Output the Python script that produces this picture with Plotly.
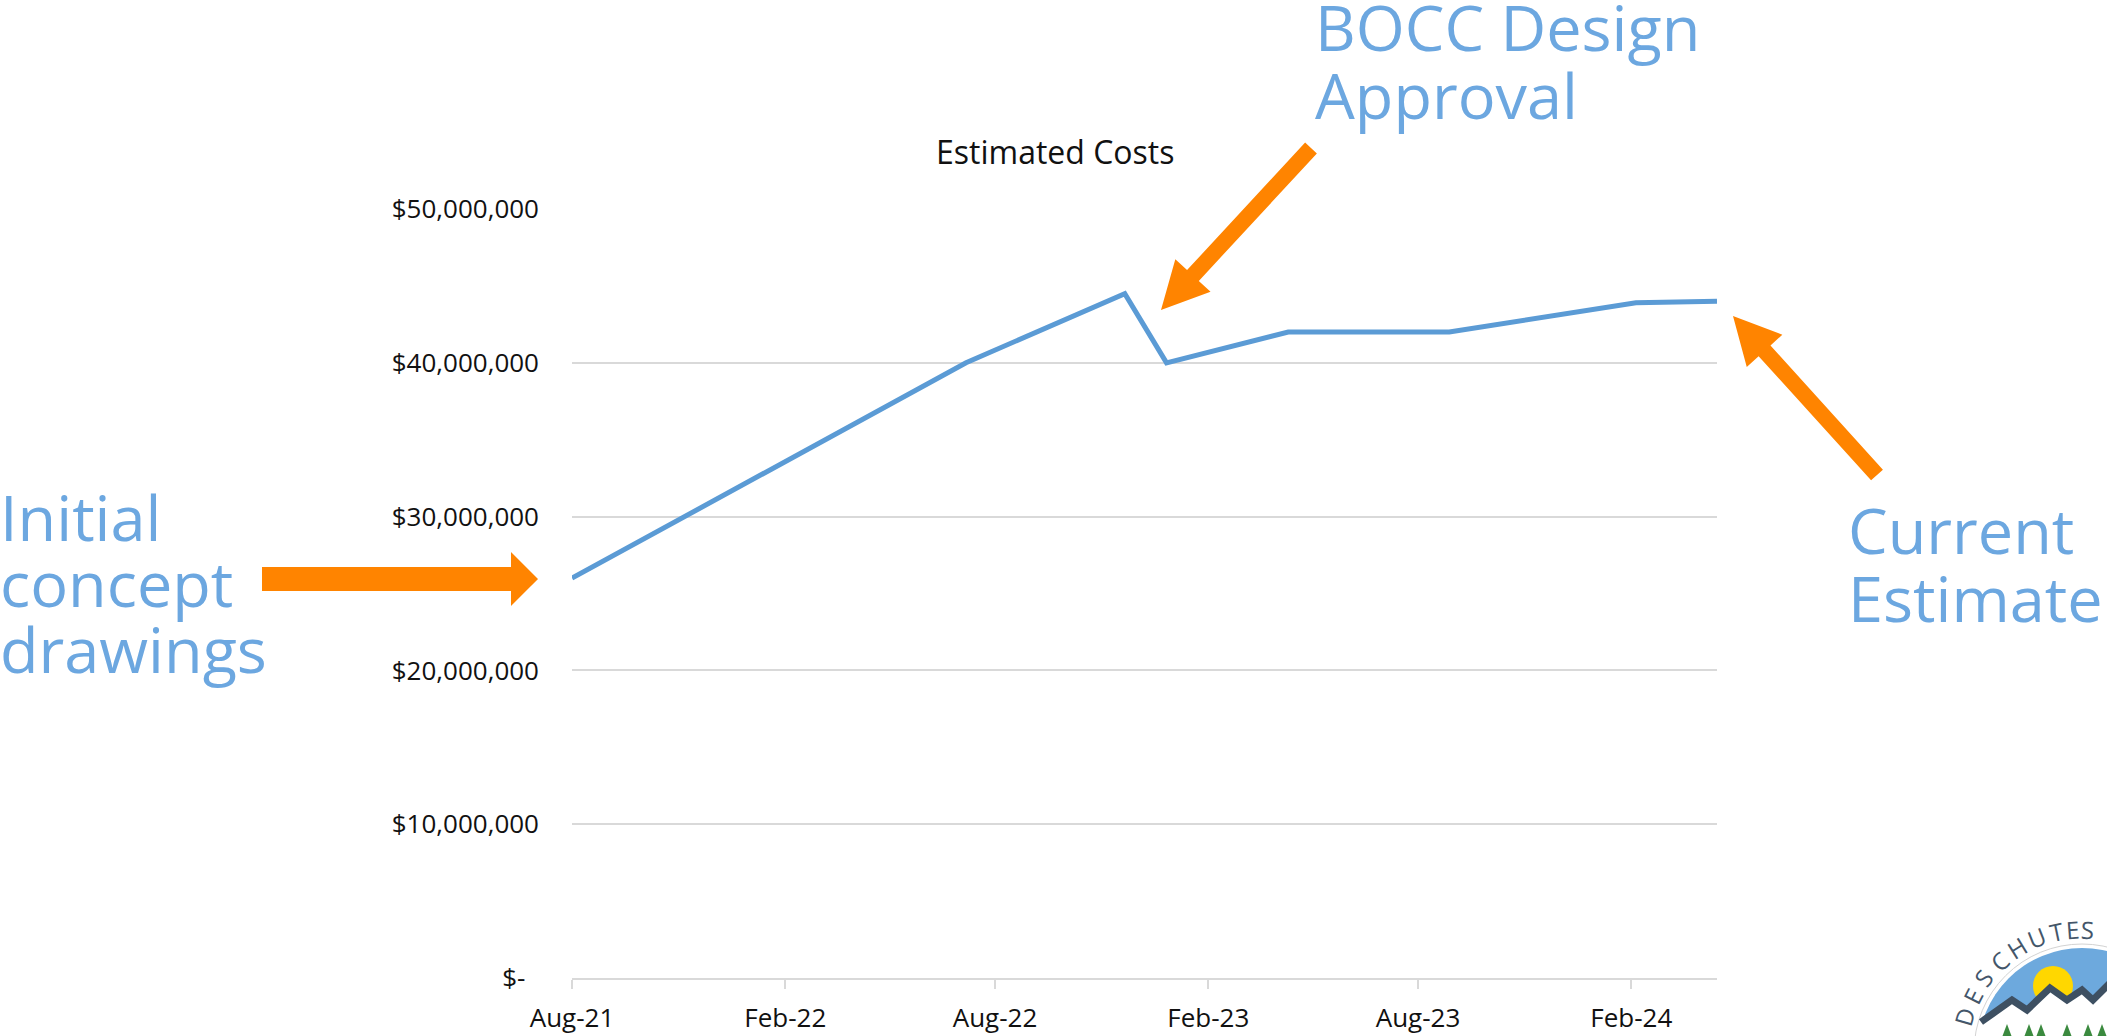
import math
import plotly.graph_objects as go

# ---------------- data ----------------
dates = ["2021-08-01", "2022-07-07", "2022-11-21", "2022-12-27",
         "2023-04-11", "2023-08-28", "2024-02-05", "2024-04-15"]
costs = [26_000_000, 40_000_000, 44_500_000, 40_000_000,
         42_000_000, 42_000_000, 43_900_000, 44_000_000]

x_tick_dates = ["2021-08-01", "2022-02-01", "2022-08-01",
                "2023-02-01", "2023-08-01", "2024-02-01"]
x_tick_labels = ["Aug-21", "Feb-22", "Aug-22", "Feb-23", "Aug-23", "Feb-24"]

y_tick_vals = [0, 10_000_000, 20_000_000, 30_000_000, 40_000_000, 50_000_000]
y_tick_labels = ["$-\u00a0\u00a0", "$10,000,000", "$20,000,000",
                 "$30,000,000", "$40,000,000", "$50,000,000"]

title_text = "Estimated Costs"
callouts = {
    "initial": ["Initial", "concept", "drawings"],
    "bocc": ["BOCC Design", "Approval"],
    "current": ["Current", "Estimate"],
}
logo_letters = list("DESCHUTES")
logo_angles = [163.6, 153.0, 142.9, 132.3, 121.8, 111.5, 101.9, 94.3, 87.6]

# ---------------- layout geometry (window pixels) ----------------
W, H = 2107, 1036
PL, PR, PT, PB = 572, 1717, 209, 978   # plot area
FONT = "Open Sans"
LINE_BLUE = "#5B9BD5"
TEXT_BLUE = "#6CA7E0"
ORANGE = "#FF8400"
GRID = "#D9D9D9"


def pp(x, y):
    return ((x - PL) / (PR - PL), (PB - y) / (PB - PT))


def path(points, close=True):
    s = ""
    for i, (x, y) in enumerate(points):
        a, b = pp(x, y)
        s += ("M" if i == 0 else "L") + f"{a:.5f},{b:.5f} "
    return s + ("Z" if close else "")


def block_arrow(tail, tip, sw, hw, hl):
    dx, dy = tip[0] - tail[0], tip[1] - tail[1]
    L = math.hypot(dx, dy)
    ux, uy = dx / L, dy / L
    nx, ny = -uy, ux
    bx, by = tip[0] - ux * hl, tip[1] - uy * hl
    pts = [
        (tail[0] + nx * sw / 2, tail[1] + ny * sw / 2),
        (bx + nx * sw / 2, by + ny * sw / 2),
        (bx + nx * hw / 2, by + ny * hw / 2),
        tip,
        (bx - nx * hw / 2, by - ny * hw / 2),
        (bx - nx * sw / 2, by - ny * sw / 2),
        (tail[0] - nx * sw / 2, tail[1] - ny * sw / 2),
    ]
    return dict(type="path", xref="paper", yref="paper", path=path(pts),
                fillcolor=ORANGE, line=dict(width=0), layer="above")


def circle(cx, cy, r, fill=None, line_color=None, lw=0):
    x0, y0 = pp(cx - r, cy + r)
    x1, y1 = pp(cx + r, cy - r)
    return dict(type="circle", xref="paper", yref="paper",
                x0=x0, y0=y0, x1=x1, y1=y1,
                fillcolor=fill if fill else "rgba(0,0,0,0)",
                line=dict(color=line_color if line_color else "rgba(0,0,0,0)", width=lw),
                layer="above")


def text_ann(text, x, baseline, size, color, xanchor="left", angle=0, center_y=None):
    cy = center_y if center_y is not None else baseline - 0.388 * size
    a, b = pp(x, cy)
    return dict(text=text, x=a, y=b, xref="paper", yref="paper",
                xanchor=xanchor, yanchor="middle", showarrow=False,
                textangle=angle,
                font=dict(family=FONT, size=size, color=color))


fig = go.Figure()
fig.add_trace(go.Scatter(
    x=dates, y=costs, mode="lines",
    line=dict(color=LINE_BLUE, width=5),
    hoverinfo="skip", showlegend=False,
))

shapes = []
# arrows
shapes.append(block_arrow((262, 579), (538, 579), 24, 54, 27))
shapes.append(block_arrow((1311, 148), (1161, 310), 16, 48, 47))
shapes.append(block_arrow((1877, 475), (1733, 316), 16, 48, 47))

# logo (bottom right)
LCX, LCY = 2082, 1052
shapes.append(circle(LCX, LCY, 108, line_color="#D3D3D3", lw=1))
shapes.append(circle(LCX, LCY, 104, fill="#6DA9DD"))
shapes.append(circle(2053, 986, 20, fill="#FFD700"))
mountain = [(1981, 1022), (2012, 1000), (2027, 1010), (2050, 988),
            (2067, 1000), (2082, 990), (2093, 1000), (2112, 981)]
shapes.append(dict(type="path", xref="paper", yref="paper",
                   path=path(mountain + [(2112, 1040), (1975, 1040)]),
                   fillcolor="white", line=dict(width=0), layer="above"))
shapes.append(dict(type="path", xref="paper", yref="paper",
                   path=path(mountain, close=False),
                   line=dict(color="#3E5062", width=7), layer="above"))
for tx in [2007, 2029, 2041, 2067, 2088, 2102]:
    shapes.append(dict(type="path", xref="paper", yref="paper",
                       path=path([(tx, 1024), (tx - 6, 1040), (tx + 6, 1040)]),
                       fillcolor="#3B8A3F", line=dict(width=0), layer="above"))

annotations = []
annotations.append(text_ann(title_text, 1055, 164, 32, "#111111", xanchor="center"))
for i, t in enumerate(callouts["initial"]):
    annotations.append(text_ann(t, -2, 541 + 66 * i, 63, TEXT_BLUE))
for i, t in enumerate(callouts["bocc"]):
    annotations.append(text_ann(t, 1313, 51 + 68 * i, 63, TEXT_BLUE))
for i, t in enumerate(callouts["current"]):
    annotations.append(text_ann(t, 1846, 554 + 68 * i, 63, TEXT_BLUE))
for ch, ang in zip(logo_letters, logo_angles):
    r = 123
    lx = LCX + r * math.cos(math.radians(ang))
    ly = LCY - r * math.sin(math.radians(ang))
    annotations.append(text_ann(ch, lx, 0, 24, "#44566A", xanchor="center",
                                angle=90 - ang, center_y=ly))

fig.update_layout(
    width=W, height=H,
    margin=dict(l=PL, r=W - PR, t=PT, b=H - PB, pad=0),
    paper_bgcolor="white", plot_bgcolor="white",
    font=dict(family=FONT, size=26, color="#111111"),
    showlegend=False,
    shapes=shapes,
    annotations=annotations,
    xaxis=dict(
        type="date", range=[dates[0], dates[-1]],
        tickvals=x_tick_dates, ticktext=x_tick_labels,
        showgrid=False, zeroline=False,
        showline=True, linecolor=GRID, linewidth=2,
        ticks="outside", ticklen=9, tickwidth=2, tickcolor=GRID,
        ticklabelstandoff=7,
        tickfont=dict(family=FONT, size=26, color="#111111"),
        automargin=False, fixedrange=True,
    ),
    yaxis=dict(
        range=[0, 50_000_000],
        tickvals=y_tick_vals, ticktext=y_tick_labels,
        showgrid=True, gridcolor=GRID, gridwidth=2,
        zeroline=False, showline=False, ticks="",
        ticklabelstandoff=32,
        tickfont=dict(family=FONT, size=26, color="#111111"),
        automargin=False, fixedrange=True,
    ),
)

fig.write_html(
    "out.html",
    config={"displayModeBar": False},
    post_script="document.body.style.margin='0px';document.body.style.overflow='hidden';",
)
